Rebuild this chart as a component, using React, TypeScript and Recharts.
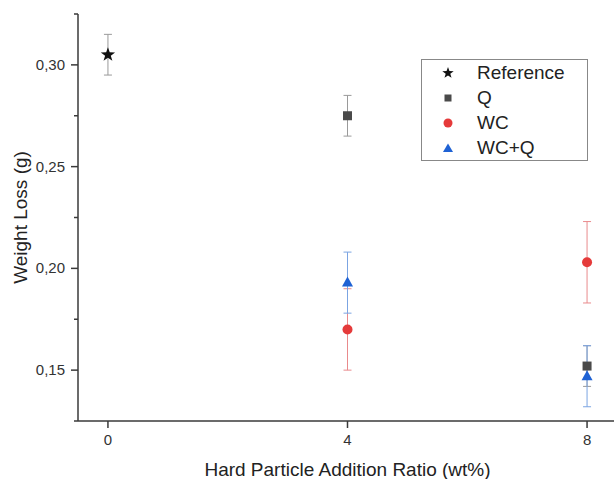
import React from 'react'
import { ScatterChart, Scatter, XAxis, YAxis, ErrorBar, Legend, Label } from 'recharts'

// x positions (wt%)
const ratios = [0, 4, 8]

// weight loss (g) and error (±) per series
const referenceX = [0]
const referenceLoss = [0.305]
const referenceErr = [0.01]

const qX = [4, 8]
const qLoss = [0.275, 0.152]
const qErr = [0.01, 0.01]

const wcX = [4, 8]
const wcLoss = [0.170, 0.203]
const wcErr = [0.02, 0.02]

const wcqX = [4, 8]
const wcqLoss = [0.193, 0.147]
const wcqErr = [0.015, 0.015]

const seriesOrder = ['Reference', 'Q', 'WC', 'WC+Q']

const yTicks = [0.125, 0.15, 0.175, 0.2, 0.225, 0.25, 0.275, 0.3, 0.325]
const yMajor = [0.15, 0.2, 0.25, 0.3]

const AXIS = '#3a3a3a'
const TEXT = '#333'
const FONT = '"Liberation Sans", Arial, sans-serif'

const toRows = (xs: number[], ys: number[], errs: number[]) =>
  xs.map((x, i) => ({ x, y: ys[i], err: errs[i] }))

const fmt = (v: number) => v.toFixed(2).replace('.', ',')

function starPath(cx: number, cy: number, R: number, r: number) {
  let d = ''
  for (let i = 0; i < 10; i++) {
    const rad = i % 2 === 0 ? R : r
    const a = -Math.PI / 2 + (i * Math.PI) / 5
    d += (i === 0 ? 'M' : 'L') + (cx + rad * Math.cos(a)).toFixed(2) + ',' + (cy + rad * Math.sin(a)).toFixed(2)
  }
  return d + 'Z'
}

const Star = ({ cx, cy }: any) => <path d={starPath(cx, cy, 7.5, 3)} fill="#111" />
const Square = ({ cx, cy }: any) => <rect x={cx - 4.5} y={cy - 4.5} width={9} height={9} fill="#4a4a4a" />
const Dot = ({ cx, cy }: any) => <circle cx={cx} cy={cy} r={5} fill="#e53a3a" />
const Tri = ({ cx, cy }: any) => (
  <path d={`M${cx},${cy - 6} L${cx + 5.5},${cy + 4} L${cx - 5.5},${cy + 4} Z`} fill="#1f62d4" />
)

const legendIcons: Record<string, React.ReactNode> = {
  Reference: <path d={starPath(8, 8, 6, 2.4)} fill="#111" />,
  Q: <rect x={4.5} y={4.5} width={7} height={7} fill="#4a4a4a" />,
  WC: <circle cx={8} cy={8} r={4.5} fill="#e53a3a" />,
  'WC+Q': <path d="M8,3.5 L13,12 L3,12 Z" fill="#1f62d4" />,
}

function LegendBox({ payload }: any) {
  const items = [...(payload || [])].sort(
    (a: any, b: any) => seriesOrder.indexOf(a.value) - seriesOrder.indexOf(b.value)
  )
  return (
    <div style={{ border: '1.5px solid #888', width: 165, background: '#fff', fontFamily: FONT }}>
      {items.map((p: any, i: number) => (
        <div key={i} style={{ display: 'flex', alignItems: 'center', height: 25 }}>
          <svg width={16} height={16} style={{ marginLeft: 18, marginRight: 21 }}>
            {legendIcons[p.value]}
          </svg>
          <span style={{ fontSize: 19, color: '#222' }}>{p.value}</span>
        </div>
      ))}
    </div>
  )
}

const TICK_SIZE = 7
const TICK_MARGIN = 6

function YTick({ x, y, payload }: any) {
  const major = yMajor.some(v => Math.abs(v - payload.value) < 1e-9)
  const x2 = x + TICK_MARGIN + TICK_SIZE
  return (
    <g>
      <line x1={x2 - (major ? 7 : 4)} x2={x2} y1={y} y2={y} stroke={AXIS} strokeWidth={1.5} />
      {major && (
        <text x={x} y={y} dy={5} textAnchor="end" fontSize={15} fill={TEXT} fontFamily={FONT}>
          {fmt(payload.value)}
        </text>
      )}
    </g>
  )
}

function YTitle({ viewBox }: any) {
  const cy = viewBox.y + viewBox.height / 2
  return (
    <text x={20} y={cy} transform={`rotate(-90 20 ${cy})`} textAnchor="middle" dominantBaseline="central"
      fontSize={19} fill="#222" fontFamily={FONT}>
      Weight Loss (g)
    </text>
  )
}

export default function App() {
  return (
    <div style={{ position: 'fixed', left: 0, top: 0, width: 614, height: 479, overflow: 'hidden', background: '#fff' }}>
      <ScatterChart width={640} height={479} margin={{ top: 14, right: 23, bottom: 0, left: 0 }}>
        <XAxis type="number" dataKey="x" domain={[-0.5, 8.5]} ticks={ratios} allowDataOverflow
          height={58} tickSize={TICK_SIZE} tickMargin={6}
          axisLine={{ stroke: AXIS, strokeWidth: 1.5 }} tickLine={{ stroke: AXIS, strokeWidth: 1.5 }}
          tick={{ fontSize: 15, fill: TEXT, fontFamily: FONT }}>
          <Label value="Hard Particle Addition Ratio (wt%)" position="insideBottom" offset={3}
            style={{ fontSize: 19, fill: '#222', fontFamily: FONT }} />
        </XAxis>
        <XAxis xAxisId="top" orientation="top" type="number" domain={[-0.5, 8.5]} height={0}
          tick={false} tickLine={false} axisLine={{ stroke: AXIS, strokeWidth: 1.5 }} />
        <YAxis type="number" dataKey="y" domain={[0.125, 0.325]} ticks={yTicks} allowDataOverflow
          width={78} tickSize={TICK_SIZE} tickMargin={TICK_MARGIN} tickLine={false}
          axisLine={{ stroke: AXIS, strokeWidth: 1.5 }} tick={<YTick />}>
          <Label content={<YTitle />} />
        </YAxis>
        <Legend layout="vertical" align="center" verticalAlign="middle" content={<LegendBox />}
          wrapperStyle={{ left: 421, top: 59, width: 168 }} />
        <Scatter name="Reference" data={toRows(referenceX, referenceLoss, referenceErr)} shape={<Star />}
          fill="#111" isAnimationActive={false}>
          <ErrorBar dataKey="err" direction="y" width={4} stroke="#9a9a9a" strokeWidth={1} />
        </Scatter>
        <Scatter name="Q" data={toRows(qX, qLoss, qErr)} shape={<Square />} fill="#4a4a4a" isAnimationActive={false}>
          <ErrorBar dataKey="err" direction="y" width={4} stroke="#9a9a9a" strokeWidth={1} />
        </Scatter>
        <Scatter name="WC" data={toRows(wcX, wcLoss, wcErr)} shape={<Dot />} fill="#e53a3a" isAnimationActive={false}>
          <ErrorBar dataKey="err" direction="y" width={4} stroke="#e98a8c" strokeWidth={1} />
        </Scatter>
        <Scatter name="WC+Q" data={toRows(wcqX, wcqLoss, wcqErr)} shape={<Tri />} fill="#1f62d4" isAnimationActive={false}>
          <ErrorBar dataKey="err" direction="y" width={4} stroke="#7ba4e2" strokeWidth={1} />
        </Scatter>
      </ScatterChart>
    </div>
  )
}
